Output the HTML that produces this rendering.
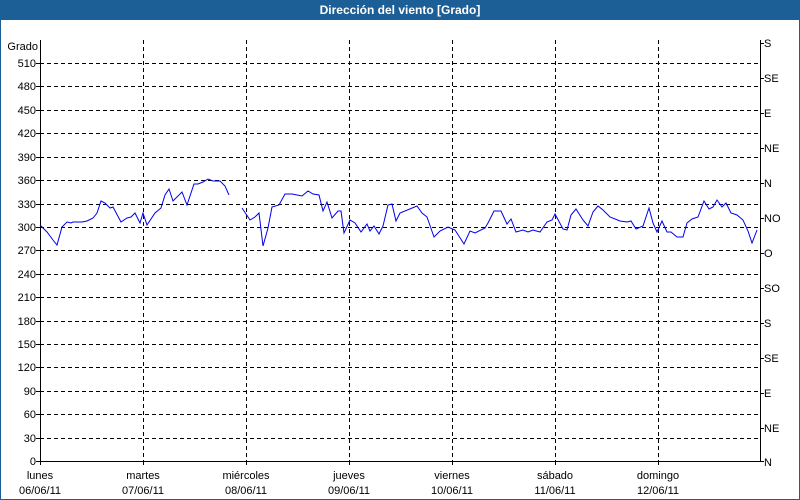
<!DOCTYPE html>
<html><head><meta charset="utf-8"><style>
html,body{margin:0;padding:0;background:#fff}
svg{display:block}
text{font-family:"Liberation Sans","DejaVu Sans",sans-serif;font-size:11px;fill:#000}
</style></head><body>
<svg width="800" height="500" viewBox="0 0 800 500" xmlns="http://www.w3.org/2000/svg">
<rect x="0" y="0" width="800" height="500" fill="#fff"/>
<rect x="0.5" y="0.5" width="799" height="499" fill="none" stroke="#1c5f96"/>
<rect x="0" y="0" width="800" height="20" fill="#1c5f96"/>
<text x="400" y="14" text-anchor="middle" style="fill:#fff;font-weight:bold;font-size:12px">Dirección del viento [Grado]</text>
<g stroke="#000" stroke-dasharray="4,3" stroke-width="1">
<line x1="40" x2="760" y1="63.5" y2="63.5"/><line x1="40" x2="760" y1="86.5" y2="86.5"/>
<line x1="40" x2="760" y1="110.5" y2="110.5"/><line x1="40" x2="760" y1="133.5" y2="133.5"/>
<line x1="40" x2="760" y1="157.5" y2="157.5"/><line x1="40" x2="760" y1="180.5" y2="180.5"/>
<line x1="40" x2="760" y1="204.5" y2="204.5"/><line x1="40" x2="760" y1="227.5" y2="227.5"/>
<line x1="40" x2="760" y1="250.5" y2="250.5"/><line x1="40" x2="760" y1="274.5" y2="274.5"/>
<line x1="40" x2="760" y1="297.5" y2="297.5"/><line x1="40" x2="760" y1="321.5" y2="321.5"/>
<line x1="40" x2="760" y1="344.5" y2="344.5"/><line x1="40" x2="760" y1="367.5" y2="367.5"/>
<line x1="40" x2="760" y1="391.5" y2="391.5"/><line x1="40" x2="760" y1="414.5" y2="414.5"/>
<line x1="40" x2="760" y1="438.5" y2="438.5"/>
<line x1="143.5" x2="143.5" y1="40" y2="461"/><line x1="246.5" x2="246.5" y1="40" y2="461"/>
<line x1="349.5" x2="349.5" y1="40" y2="461"/><line x1="452.5" x2="452.5" y1="40" y2="461"/>
<line x1="555.5" x2="555.5" y1="40" y2="461"/><line x1="658.5" x2="658.5" y1="40" y2="461"/>
</g>
<g stroke="#000" stroke-width="1" fill="none">
<path d="M40.5 40V461.5H760.5V40"/>
<path d="M36 63.5h4M36 86.5h4M36 110.5h4M36 133.5h4M36 157.5h4M36 180.5h4M36 204.5h4M36 227.5h4M36 250.5h4M36 274.5h4M36 297.5h4M36 321.5h4M36 344.5h4M36 367.5h4M36 391.5h4M36 414.5h4M36 438.5h4M36 461.5h4"/>
<path d="M760 43.5h4M760 78.5h4M760 113.5h4M760 148.5h4M760 183.5h4M760 218.5h4M760 253.5h4M760 288.5h4M760 323.5h4M760 358.5h4M760 393.5h4M760 428.5h4M760 461.5h4"/>
<path d="M40.5 461v4M143.5 461v4M246.5 461v4M349.5 461v4M452.5 461v4M555.5 461v4M658.5 461v4"/>
</g>
<g text-anchor="end">
<text x="38" y="50">Grado</text>
<text x="36" y="67">510</text><text x="36" y="90">480</text><text x="36" y="114">450</text>
<text x="36" y="137">420</text><text x="36" y="161">390</text><text x="36" y="184">360</text>
<text x="36" y="208">330</text><text x="36" y="231">300</text><text x="36" y="254">270</text>
<text x="36" y="278">240</text><text x="36" y="301">210</text><text x="36" y="325">180</text>
<text x="36" y="348">150</text><text x="36" y="371">120</text><text x="36" y="395">90</text>
<text x="36" y="418">60</text><text x="36" y="442">30</text><text x="36" y="465">0</text>
</g>
<g>
<text x="764" y="47">S</text><text x="764" y="82">SE</text><text x="764" y="117">E</text>
<text x="764" y="152">NE</text><text x="764" y="187">N</text><text x="764" y="222">NO</text>
<text x="764" y="257">O</text><text x="764" y="292">SO</text><text x="764" y="327">S</text>
<text x="764" y="362">SE</text><text x="764" y="397">E</text><text x="764" y="432">NE</text>
<text x="764" y="466">N</text>
</g>
<g text-anchor="middle">
<text x="40" y="479">lunes</text><text x="40" y="494">06/06/11</text>
<text x="143" y="479">martes</text><text x="143" y="494">07/06/11</text>
<text x="246" y="479">miércoles</text><text x="246" y="494">08/06/11</text>
<text x="349" y="479">jueves</text><text x="349" y="494">09/06/11</text>
<text x="452" y="479">viernes</text><text x="452" y="494">10/06/11</text>
<text x="555" y="479">sábado</text><text x="555" y="494">11/06/11</text>
<text x="658" y="479">domingo</text><text x="658" y="494">12/06/11</text>
</g>
<g fill="none" stroke="#0000ee" stroke-width="1">
<polyline points="40,225 47,232 53,240 57,245 62,227 67,222 71,223 73,222 82,222 87,221 93,218 97,213 101,201 105,203 110,208 113,207 121,222 127,218 131,217 135,213 140,223 143,213 147,225 155,213 161,208 165,195 169,189 173,201 182,192 187,205 194,184 198,184 203,182 208,179 213,181 220,181 225,186 229,195"/>
<polyline points="242,208 250,220 255,217 259,213 263,246 268,228 272,207 279,205 285,194 292,194 297,195 302,196 308,191 313,194 319,195 323,211 327,202 332,218 338,211 341,211 344,233 350,220 355,223 361,232 367,224 370,231 374,226 379,234 383,226 388,205 392,204 396,221 400,213 417,206 422,213 427,217 434,237 440,231 448,227 455,230 464,244 470,231 475,233 485,228 488,223 494,211 501,211 507,224 511,219 516,232 523,230 528,232 533,230 540,232 547,222 552,220 555,214 563,229 567,230 571,215 576,209 583,220 588,226 593,212 598,206 603,210 610,217 620,221 627,222 631,221 636,229 643,226 649,208 653,223 657,232 662,221 667,232 671,232 677,237 683,237 687,223 692,219 698,217 704,201 709,209 713,207 717,200 722,207 726,203 731,213 737,215 743,220 748,231 752,243 757,230"/>
</g>
</svg>
</body></html>
